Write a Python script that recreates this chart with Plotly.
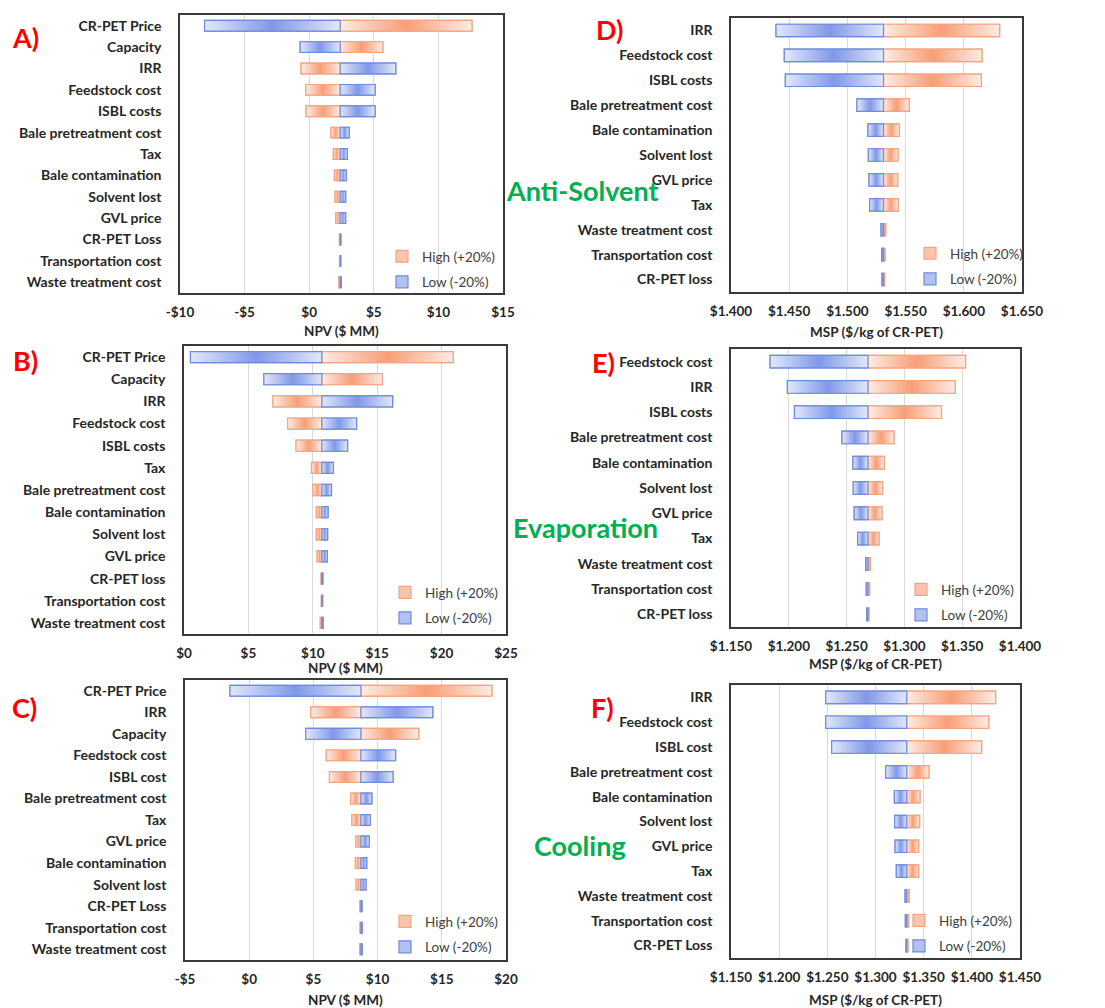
import plotly.graph_objects as go

W, H = 1105, 1008

# ------------------------------------------------------------------ data
# A) Anti-Solvent, NPV ($ MM)
a_cats = ["CR-PET Price", "Capacity", "IRR", "Feedstock cost", "ISBL costs",
          "Bale pretreatment cost", "Tax", "Bale contamination", "Solvent lost",
          "GVL price", "CR-PET Loss", "Transportation cost", "Waste treatment cost"]
a_base = 2.4
a_low = [-8.1, -0.7, 6.7, 5.1, 5.1, 3.1, 2.95, 2.87, 2.82, 2.82, 2.45, 2.44, 2.48]
a_high = [12.6, 5.7, -0.63, -0.27, -0.24, 1.69, 1.87, 1.95, 2.0, 2.05, 2.34, 2.35, 2.3]

# B) Evaporation, NPV ($ MM)
b_cats = ["CR-PET Price", "Capacity", "IRR", "Feedstock cost", "ISBL costs", "Tax",
          "Bale pretreatment cost", "Bale contamination", "Solvent lost", "GVL price",
          "CR-PET loss", "Transportation cost", "Waste treatment cost"]
b_base = 10.7
b_low = [0.5, 6.2, 16.2, 13.4, 12.7, 11.6, 11.45, 11.18, 11.15, 11.13, 10.78, 10.76, 10.8]
b_high = [20.9, 15.4, 6.9, 8.05, 8.7, 9.9, 10.0, 10.27, 10.27, 10.33, 10.64, 10.66, 10.58]

# C) Cooling, NPV ($ MM)
c_cats = ["CR-PET Price", "IRR", "Capacity", "Feedstock cost", "ISBL cost",
          "Bale pretreatment cost", "Tax", "GVL price", "Bale contamination",
          "Solvent lost", "CR-PET Loss", "Transportation cost", "Waste treatment cost"]
c_base = 8.7
c_low = [-1.5, 14.3, 4.4, 11.4, 11.2, 9.55, 9.43, 9.35, 9.15, 9.1, 8.78, 8.8, 8.8]
c_high = [18.9, 4.8, 13.2, 6.0, 6.25, 7.9, 8.0, 8.3, 8.27, 8.32, 8.62, 8.63, 8.6]

# D) Anti-Solvent, MSP ($/kg of CR-PET)
d_cats = ["IRR", "Feedstock cost", "ISBL costs", "Bale pretreatment cost",
          "Bale contamination", "Solvent lost", "GVL price", "Tax",
          "Waste treatment cost", "Transportation cost", "CR-PET loss"]
d_base = 1.531
d_low = [1.4387, 1.4458, 1.4467, 1.5082, 1.5177, 1.518, 1.5186, 1.5191, 1.5289, 1.5294, 1.5297]
d_high = [1.6308, 1.6156, 1.6151, 1.5532, 1.5446, 1.5435, 1.5432, 1.5438, 1.5329, 1.5323, 1.532]

# E) Evaporation, MSP ($/kg of CR-PET)
e_cats = ["Feedstock cost", "IRR", "ISBL costs", "Bale pretreatment cost",
          "Bale contamination", "Solvent lost", "GVL price", "Tax",
          "Waste treatment cost", "Transportation cost", "CR-PET loss"]
e_base = 1.2685
e_low = [1.1838, 1.1988, 1.2049, 1.246, 1.2555, 1.2558, 1.2566, 1.2595, 1.2665, 1.267, 1.2673]
e_high = [1.3529, 1.3439, 1.3321, 1.291, 1.2827, 1.2812, 1.2806, 1.278, 1.2705, 1.2699, 1.2694]

# F) Cooling, MSP ($/kg of CR-PET)
f_cats = ["IRR", "Feedstock cost", "ISBL cost", "Bale pretreatment cost",
          "Bale contamination", "Solvent lost", "GVL price", "Tax",
          "Waste treatment cost", "Transportation cost", "CR-PET Loss"]
f_base = 1.3324
f_low = [1.2483, 1.2483, 1.2545, 1.3106, 1.3196, 1.3199, 1.3203, 1.3216, 1.3307, 1.331, 1.3317]
f_high = [1.4247, 1.4175, 1.4102, 1.3555, 1.3462, 1.3458, 1.3448, 1.3448, 1.3351, 1.3344, 1.3338]

# tick labels
a_tickvals = [-10, -5, 0, 5, 10, 15]
a_ticktext = ["-$10", "-$5", "$0", "$5", "$10", "$15"]
b_tickvals = [0, 5, 10, 15, 20, 25]
b_ticktext = ["$0", "$5", "$10", "$15", "$20", "$25"]
c_tickvals = [-5, 0, 5, 10, 15, 20]
c_ticktext = ["-$5", "$0", "$5", "$10", "$15", "$20"]
d_tickvals = [1.40, 1.45, 1.50, 1.55, 1.60, 1.65]
d_ticktext = ["$1.400", "$1.450", "$1.500", "$1.550", "$1.600", "$1.650"]
e_tickvals = [1.15, 1.20, 1.25, 1.30, 1.35, 1.40]
e_ticktext = ["$1.150", "$1.200", "$1.250", "$1.300", "$1.350", "$1.400"]
f_tickvals = [1.15, 1.20, 1.25, 1.30, 1.35, 1.40, 1.45]
f_ticktext = ["$1.150", "$1.200", "$1.250", "$1.300", "$1.350", "$1.400", "$1.450"]

high_name = "High (+20%)"
low_name = "Low (-20%)"
npv_title = "NPV ($ MM)"
msp_title = "MSP ($/kg of CR-PET)"

# ------------------------------------------------------------------ styling
FONT = "Lato"
TXT = "#262626"
ORANGE_LIGHT = "rgb(253,236,228)"
ORANGE_DARK = "rgb(248,158,118)"
ORANGE_MID = "rgb(250,196,172)"
BLUE_LIGHT = "rgb(226,232,249)"
BLUE_DARK = "rgb(128,152,232)"
BLUE_MID = "rgb(178,194,240)"
ORANGE_LINE = "#f2a582"
BLUE_LINE = "#6f8cdb"
BAR_W = 0.5

# pixel boxes (left, top, right, bottom) of each plot frame
panels = [
    dict(letter="A)", cats=a_cats, base=a_base, low=a_low, high=a_high,
         rng=[-10, 15], tv=a_tickvals, tt=a_ticktext, title=npv_title,
         box=(180, 15, 503, 293), letter_xy=(25, 38), title_y=331, leg=(500, 298)),
    dict(letter="B)", cats=b_cats, base=b_base, low=b_low, high=b_high,
         rng=[0, 25], tv=b_tickvals, tt=b_ticktext, title=npv_title,
         box=(184, 346, 506, 634), letter_xy=(25, 360), title_y=668, leg=(503, 634)),
    dict(letter="C)", cats=c_cats, base=c_base, low=c_low, high=c_high,
         rng=[-5, 20], tv=c_tickvals, tt=c_ticktext, title=npv_title,
         box=(185, 680, 506, 960), letter_xy=(24, 707), title_y=1000, leg=(503, 963)),
    dict(letter="D)", cats=d_cats, base=d_base, low=d_low, high=d_high,
         rng=[1.40, 1.65], tv=d_tickvals, tt=d_ticktext, title=msp_title,
         box=(731, 18, 1022, 292), letter_xy=(609, 29), title_y=332, leg=(1028, 295)),
    dict(letter="E)", cats=e_cats, base=e_base, low=e_low, high=e_high,
         rng=[1.15, 1.40], tv=e_tickvals, tt=e_ticktext, title=msp_title,
         box=(731, 349, 1020, 627), letter_xy=(603, 362), title_y=664, leg=(1019, 631)),
    dict(letter="F)", cats=f_cats, base=f_base, low=f_low, high=f_high,
         rng=[1.15, 1.45], tv=f_tickvals, tt=f_ticktext, title=msp_title,
         box=(731, 685, 1020, 958), letter_xy=(602, 707), title_y=1000, leg=(1017, 962)),
]

green_labels = [("Anti-Solvent", 582, 190), ("Evaporation", 585, 527), ("Cooling", 580, 845)]


def px_x(x):
    return x / W


def px_y(y):
    return 1 - y / H


fig = go.Figure()
layout = dict(
    width=W, height=H, autosize=False,
    margin=dict(l=0, r=0, t=0, b=0, autoexpand=False),
    paper_bgcolor="white", plot_bgcolor="white",
    barmode="overlay",
    font=dict(family=FONT, color=TXT),
    annotations=[],
)

for i, p in enumerate(panels, start=1):
    xa = "x" if i == 1 else f"x{i}"
    ya = "y" if i == 1 else f"y{i}"
    leg = "legend" if i == 1 else f"legend{i}"
    base = p["base"]
    n = len(p["cats"])
    rows = list(range(n))
    series = [
        (p["high"], high_name, ORANGE_LIGHT, ORANGE_DARK, ORANGE_MID, ORANGE_LINE, f"g{i}h"),
        (p["low"], low_name, BLUE_LIGHT, BLUE_DARK, BLUE_MID, BLUE_LINE, f"g{i}l"),
    ]
    # legend-carrying underlay bars
    for vals, name, light, dark, mid, line, grp in series:
        fig.add_trace(go.Bar(
            y=rows, x=[v - base for v in vals], base=[base] * n,
            orientation="h", width=BAR_W, name=name, legend=leg, legendgroup=grp,
            marker=dict(color=mid, line=dict(color=line, width=1.2)),
            xaxis=xa, yaxis=ya, showlegend=True, hoverinfo="skip",
        ))
    # gradient-filled bars
    for vals, name, light, dark, mid, line, grp in series:
        for j, v in enumerate(vals):
            lo, hi = j - BAR_W / 2, j + BAR_W / 2
            fig.add_trace(go.Scatter(
                x=[base, v, v, base, base], y=[lo, lo, hi, hi, lo],
                mode="lines", fill="toself",
                fillgradient=dict(type="horizontal",
                                  colorscale=[[0, light], [0.5, dark], [1, light]]),
                line=dict(color=line, width=1.2),
                xaxis=xa, yaxis=ya, showlegend=False, hoverinfo="skip",
            ))

    l, t_, r, b = p["box"]
    xkey = "xaxis" if i == 1 else f"xaxis{i}"
    ykey = "yaxis" if i == 1 else f"yaxis{i}"
    layout[xkey] = dict(
        domain=[px_x(l), px_x(r)], anchor=ya, range=p["rng"], automargin=False,
        tickmode="array", tickvals=p["tv"], ticktext=p["tt"],
        showgrid=True, gridcolor="#d9d9d9", gridwidth=1, zeroline=False,
        showline=True, mirror=True, linecolor="#3a3a3a", linewidth=1.5,
        ticks="", ticklabelstandoff=6,
        tickfont=dict(family=FONT, size=13.5, color=TXT, weight="bold"),
    )
    layout[ykey] = dict(
        domain=[px_y(b), px_y(t_)], anchor=xa, range=[n - 0.5, -0.5], automargin=False,
        tickmode="array", tickvals=rows, ticktext=p["cats"],
        showgrid=False, zeroline=False,
        showline=True, mirror=True, linecolor="#3a3a3a", linewidth=1.5,
        ticks="", ticklabelstandoff=14,
        tickfont=dict(family=FONT, size=14, color=TXT, weight="bold"),
    )
    lx, ly = p["leg"]
    layout[leg] = dict(
        x=px_x(lx), y=px_y(ly), xanchor="right", yanchor="bottom",
        xref="paper", yref="paper",
        bgcolor="rgba(0,0,0,0)", borderwidth=0,
        font=dict(family=FONT, size=13.5, color="#404040"),
        traceorder="grouped", tracegroupgap=5, itemwidth=30,
    )
    layout["annotations"].append(dict(
        text=p["letter"], x=px_x(p["letter_xy"][0]), y=px_y(p["letter_xy"][1]),
        xref="paper", yref="paper", xanchor="center", yanchor="middle", showarrow=False,
        font=dict(family=FONT, size=27, color="#ff0000", weight="bold"),
    ))
    layout["annotations"].append(dict(
        text=p["title"], x=px_x((l + r) / 2), y=px_y(p["title_y"]),
        xref="paper", yref="paper", xanchor="center", yanchor="middle", showarrow=False,
        font=dict(family=FONT, size=13.5, color=TXT, weight="bold"),
    ))

for txt, gx, gy in green_labels:
    layout["annotations"].append(dict(
        text=txt, x=px_x(gx), y=px_y(gy), xref="paper", yref="paper",
        xanchor="center", yanchor="middle", showarrow=False,
        font=dict(family=FONT, size=27, color="#00b050", weight="bold"),
    ))

fig.update_layout(**layout)
fig.write_html(
    "out.html",
    config={"displayModeBar": False},
    post_script="document.body.style.margin='0px';document.body.style.overflow='hidden';",
)
